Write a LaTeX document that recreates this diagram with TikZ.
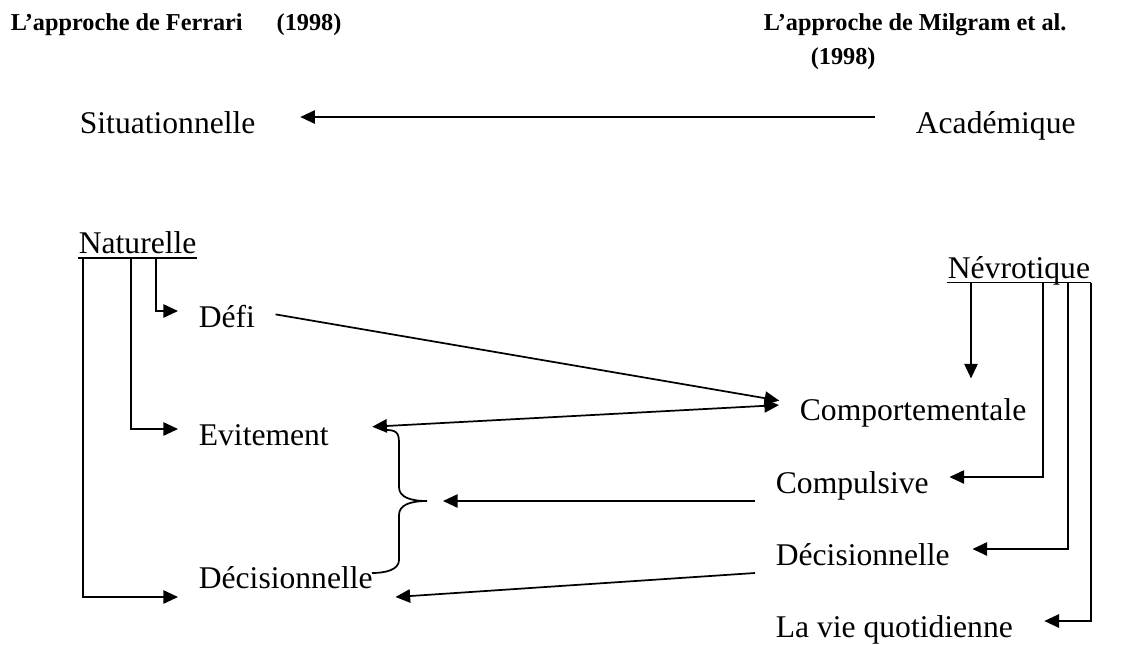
\documentclass[tikz,border=0pt]{standalone}
\usepackage{fontspec}
\setmainfont{Liberation Serif}
\usetikzlibrary{arrows.meta}

\begin{document}
\begin{tikzpicture}[x=0.75pt, y=-0.75pt, line width=1.3pt,
    txt/.style={anchor=west, inner sep=0pt, text height=25pt, text depth=0pt,
      font=\fontsize{23.7}{28}\selectfont},
    head/.style={anchor=base west, inner sep=0pt, font=\fontsize{18.2}{22}\selectfont\bfseries},
    arr/.style={-{Triangle[length=11pt,width=10pt]}},
    darr/.style={{Triangle[length=11pt,width=10pt]}-{Triangle[length=11pt,width=10pt]}}]
  \useasboundingbox (0,0) rectangle (1125,644);

  \node[head] (ferrari) at (10,30) {L’approche de Ferrari\hspace{25.5pt}(1998)};
  \node[head] (milgram) at (763,30) {L’approche de Milgram et al.};
  \node[head] (milgramyr) at (810,64) {(1998)};

  \node[txt] (situ) at (79,117) {Situationnelle};
  \node[txt] (acad) at (915,117) {Académique};
  \draw[arr, shorten <=30pt, shorten >=33pt] (acad.west) -- (situ.east);

  % Ferrari
  \node[txt] (natu) at (78,237) {Naturelle};
  \node[txt] (defi) at (198,311) {Défi};
  \node[txt] (evit) at (198,429) {Evitement};
  \node[txt] (deci) at (198,572) {Décisionnelle};
  \draw ([yshift=-2.6pt]natu.south west) -- ([yshift=-2.6pt]natu.south east);
  \coordinate (na) at ([xshift=3.75pt,yshift=-2.6pt]natu.south west);
  \coordinate (nb) at ([xshift=39.75pt,yshift=-2.6pt]natu.south west);
  \coordinate (nc) at ([xshift=58.5pt,yshift=-2.6pt]natu.south west);
  \draw[arr, shorten >=15pt] (nc) |- (defi.west);
  \draw[arr, shorten >=15pt] (nb) |- (evit.west);
  \draw[arr, shorten >=15pt] (na) |- ([yshift=-18.75pt]deci.west);

  % Milgram
  \node[txt] (nevr) at (947,261.5) {Névrotique};
  \node[txt] (comp) at (799,404) {Comportementale};
  \node[txt] (cpls) at (775,477) {Compulsive};
  \node[txt] (decr) at (775,549) {Décisionnelle};
  \node[txt] (vie) at (775,621) {La vie quotidienne};
  \draw ([yshift=-2.6pt]nevr.south west) -- ([yshift=-2.6pt]nevr.south east);
  \coordinate (va) at ([xshift=18pt,yshift=-2.6pt]nevr.south west);
  \coordinate (vb) at ([xshift=72pt,yshift=-2.6pt]nevr.south west);
  \coordinate (vc) at ([xshift=90.75pt,yshift=-2.6pt]nevr.south west);
  \coordinate (vd) at ([yshift=-2.6pt]nevr.south east);
  \draw[arr, shorten >=6pt] (va) -- (va |- comp.north);
  \draw[arr, shorten >=15pt] (vb) |- (cpls.east);
  \draw[arr, shorten >=16.5pt] (vc) |- (decr.east);
  \draw[arr, shorten >=23pt] (vd) |- (vie.east);

  \draw[arr, shorten <=15pt, shorten >=15pt] (defi.east) -- (comp.west);
  \draw[darr, shorten <=32pt, shorten >=15pt] (evit.east) -- (comp.west);

  \coordinate (brc) at (427,501);
  \draw (387,430) .. controls (399,430) and (399,436) .. (399,445) -- (399,487)
    .. controls (399,497) and (410,501) .. (brc)
    .. controls (410,501) and (399,505) .. (399,515) -- (399,560)
    .. controls (399,570) and (385,573) .. (372,573);
  \draw[arr, shorten >=12pt] ([xshift=-15pt,yshift=-18pt]cpls.west) -- (brc);
  \draw[arr] ([xshift=-15pt,yshift=-18pt]decr.west) -- ([xshift=16.5pt,yshift=-18.75pt]deci.east);
\end{tikzpicture}
\end{document}
